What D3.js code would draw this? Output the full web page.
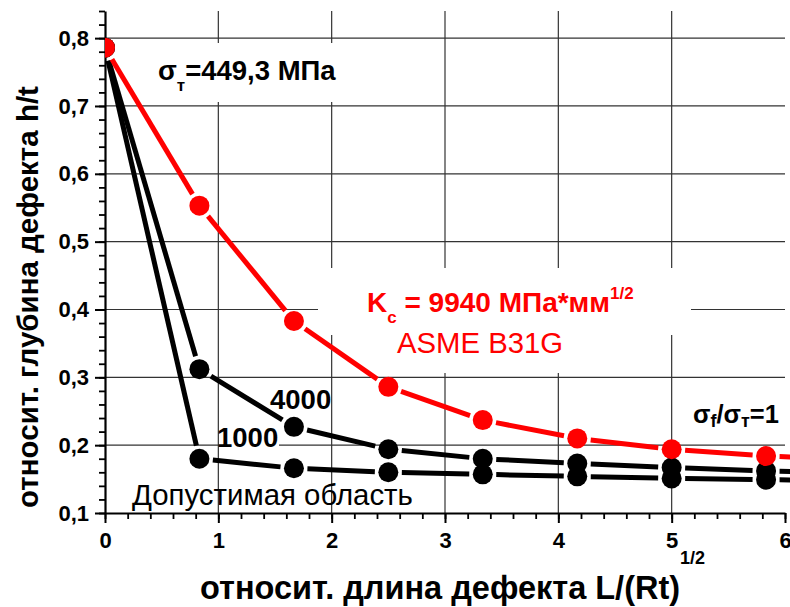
<!DOCTYPE html>
<html>
<head>
<meta charset="utf-8">
<script src="https://cdn.jsdelivr.net/npm/d3@7"></script>
<style>
  html, body { margin: 0; padding: 0; background: #fff; }
  svg { display: block; font-family: "Liberation Sans", Arial, sans-serif; }
</style>
</head>
<body>
<div id="chart"></div>
<script>
// -------- data --------
const xVals = [0, 0.833, 1.667, 2.5, 3.333, 4.167, 5.0, 5.833, 6.667];
const asmeB31G = [0.786, 0.553, 0.383, 0.286, 0.237, 0.210, 0.194, 0.184, 0.178];
const curve4000 = [0.786, 0.312, 0.227, 0.194, 0.180, 0.173, 0.167, 0.162, 0.159];
const curve1000 = [0.786, 0.180, 0.166, 0.160, 0.157, 0.154, 0.151, 0.149, 0.148];

const xTicks = [0, 1, 2, 3, 4, 5, 6];
const yTicks = [0.1, 0.2, 0.3, 0.4, 0.5, 0.6, 0.7, 0.8];
const xMinor = d3.range(0, 6.01, 0.2);
const yMinor = d3.range(0.1, 0.841, 0.02);

// -------- setup --------
const width = 790;
const height = 607;
const plot = { left: 105, right: 785, top: 11, bottom: 513 };

const svg = d3.select('#chart')
  .append('svg')
  .attr('width', width)
  .attr('height', height);

const xScale = d3.scaleLinear().domain([0, 6]).range([plot.left, plot.right]);
const yScale = d3.scaleLinear().domain([0.1, 0.84]).range([plot.bottom, plot.top]);

const commaFmt = d3.formatLocale({ decimal: ',', thousands: ' ', grouping: [3], currency: ['', ''] }).format('.1f');

svg.append('defs').append('clipPath').attr('id', 'plot-clip')
  .append('rect')
  .attr('x', plot.left).attr('y', 0)
  .attr('width', width - plot.left).attr('height', plot.bottom);

// -------- grid --------
const grid = svg.append('g').attr('class', 'grid')
  .attr('stroke', '#333').attr('stroke-width', 1.2);

grid.selectAll('line.h')
  .data(yTicks.filter(d => d > 0.1))
  .join('line')
  .attr('class', 'h')
  .attr('x1', plot.left).attr('x2', plot.right)
  .attr('y1', d => yScale(d)).attr('y2', d => yScale(d));

grid.selectAll('line.v')
  .data(xTicks.filter(d => d > 0 && d < 6))
  .join('line')
  .attr('class', 'v')
  .attr('x1', d => xScale(d)).attr('x2', d => xScale(d))
  .attr('y1', yScale(0.84)).attr('y2', plot.bottom);

// white backgrounds behind the text labels (they hide the grid)
const labelBoxes = [
  [150, 43, 196, 59],   // sigma_t label
  [318, 268, 373, 67],  // Kc label
  [390, 335, 176, 38],  // ASME B31G
  [219, 426, 60, 21]    // 1000
];
svg.append('g').selectAll('rect')
  .data(labelBoxes)
  .join('rect')
  .attr('x', d => d[0]).attr('y', d => d[1])
  .attr('width', d => d[2]).attr('height', d => d[3])
  .attr('fill', '#fff');

// -------- axes --------
const axisFont = g => g.selectAll('text')
  .attr('font-size', 22).attr('font-weight', 'bold').attr('fill', '#000')
  .attr('font-family', '"Liberation Sans", Arial, sans-serif');

svg.append('g')
  .attr('transform', `translate(${plot.left},0)`)
  .call(d3.axisLeft(yScale).tickValues(yMinor).tickSize(6).tickSizeOuter(0).tickFormat(''))
  .call(g => g.selectAll('line').attr('stroke-width', 1.8))
  .call(g => g.select('.domain').remove());

svg.append('g')
  .attr('transform', `translate(${plot.left},0)`)
  .call(d3.axisLeft(yScale).tickValues(yTicks).tickSize(10).tickSizeOuter(0).tickPadding(6).tickFormat(commaFmt))
  .call(g => g.selectAll('line').attr('stroke-width', 2))
  .call(g => g.select('.domain').attr('stroke-width', 2.2))
  .call(axisFont);

svg.append('g')
  .attr('transform', `translate(0,${plot.bottom})`)
  .call(d3.axisBottom(xScale).tickValues(xMinor).tickSize(6).tickSizeOuter(0).tickFormat(''))
  .call(g => g.selectAll('line').attr('stroke-width', 1.8))
  .call(g => g.select('.domain').remove());

svg.append('g')
  .attr('transform', `translate(0,${plot.bottom})`)
  .call(d3.axisBottom(xScale).tickValues(xTicks).tickSize(10).tickSizeOuter(0).tickPadding(9).tickFormat(d3.format('d')))
  .call(g => g.selectAll('line').attr('stroke-width', 2))
  .call(g => g.select('.domain').attr('stroke-width', 2.2))
  .call(axisFont);

// -------- curves: segments broken short of each marker --------
const markerR = 10;
const gap = 3.5;

function segments(vals) {
  const pts = xVals.map((x, i) => [xScale(x), yScale(vals[i])]);
  return d3.pairs(pts).map(([a, b]) => {
    const dx = b[0] - a[0];
    const dy = b[1] - a[1];
    const len = Math.hypot(dx, dy);
    const t = (markerR + gap) / len;
    return [a[0] + dx * t, a[1] + dy * t, b[0] - dx * t, b[1] - dy * t];
  });
}

const series = [
  { vals: curve1000, color: '#000' },
  { vals: curve4000, color: '#000' },
  { vals: asmeB31G, color: '#ff0000' }
];

const marks = svg.append('g').attr('clip-path', 'url(#plot-clip)');

series.forEach(s => {
  marks.append('g')
    .selectAll('line')
    .data(segments(s.vals))
    .join('line')
    .attr('x1', d => d[0]).attr('y1', d => d[1])
    .attr('x2', d => d[2]).attr('y2', d => d[3])
    .attr('stroke', s.color)
    .attr('stroke-width', 5);
});

series.forEach(s => {
  marks.append('g')
    .selectAll('circle')
    .data(xVals.map((x, i) => [x, s.vals[i]]))
    .join('circle')
    .attr('cx', d => xScale(d[0]))
    .attr('cy', d => yScale(d[1]))
    .attr('r', markerR)
    .attr('fill', s.color);
});

// -------- labels --------
const labels = svg.append('g').attr('font-family', '"Liberation Sans", Arial, sans-serif');

const sig = labels.append('text').attr('x', 158).attr('y', 80)
  .attr('font-size', 27.5).attr('font-weight', 'bold');
sig.append('tspan').text('σ');
sig.append('tspan').attr('font-size', 17).attr('dy', 11).text('т');
sig.append('tspan').attr('dy', -11).text('=449,3 МПа');

const kc = labels.append('text').attr('x', 367).attr('y', 312)
  .attr('font-size', 28).attr('font-weight', 'bold').attr('fill', '#ff0000');
kc.append('tspan').text('K');
kc.append('tspan').attr('font-size', 17).attr('dy', 11).text('c');
kc.append('tspan').attr('dy', -11).text(' = 9940 МПа*мм');
kc.append('tspan').attr('font-size', 17).attr('dy', -13).text('1/2');

labels.append('text').attr('x', 397).attr('y', 353)
  .attr('font-size', 29.3).attr('fill', '#ff0000')
  .text('ASME B31G');

labels.append('text').attr('x', 270).attr('y', 409)
  .attr('font-size', 27.5).attr('font-weight', 'bold')
  .text('4000');

labels.append('text').attr('x', 217).attr('y', 447)
  .attr('font-size', 27.5).attr('font-weight', 'bold')
  .text('1000');

labels.append('text').attr('x', 132).attr('y', 505)
  .attr('font-size', 29.4)
  .text('Допустимая область');

const ratio = labels.append('text').attr('x', 693).attr('y', 423)
  .attr('font-size', 25.5).attr('font-weight', 'bold');
ratio.append('tspan').text('σ');
ratio.append('tspan').attr('font-size', 18).attr('dy', 4).text('f');
ratio.append('tspan').attr('dy', -4).text('/σ');
ratio.append('tspan').attr('font-size', 18).attr('dy', 4).text('т');
ratio.append('tspan').attr('dy', -4).text('=1');

// axis titles
labels.append('text')
  .attr('transform', 'translate(38,297) rotate(-90)')
  .attr('text-anchor', 'middle')
  .attr('font-size', 29.5).attr('font-weight', 'bold')
  .text('относит. глубина дефекта h/t');

const xt = labels.append('text').attr('x', 200).attr('y', 599)
  .attr('font-size', 32.5).attr('font-weight', 'bold');
xt.append('tspan').text('относит. длина дефекта L/(Rt)');
xt.append('tspan').attr('font-size', 18).attr('dy', -35).text('1/2');
</script>
</body>
</html>
